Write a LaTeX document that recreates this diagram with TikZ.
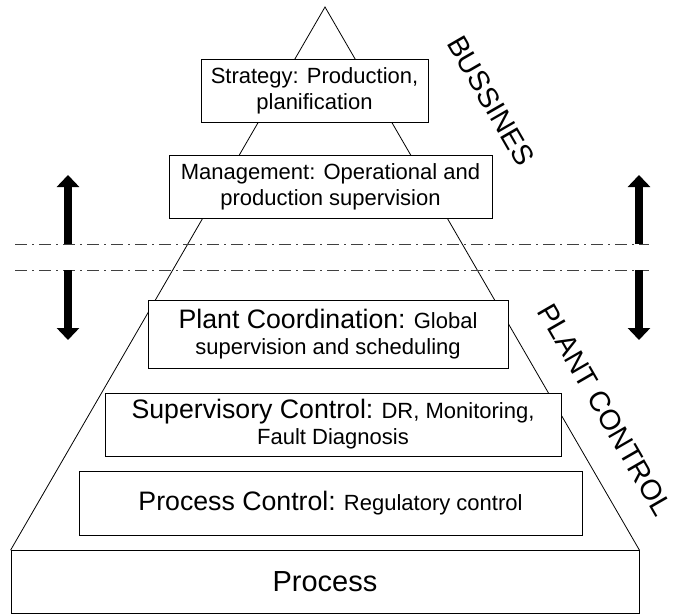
\documentclass[tikz,border=0pt]{standalone}
\usepackage{fontspec}
\setmainfont{Liberation Sans}
\usetikzlibrary{arrows.meta}
\newcommand{\headfont}{\fontsize{26.7}{31}\selectfont}
\newcommand{\bodyfont}{\fontsize{22}{26}\selectfont}
\begin{document}
\begin{tikzpicture}[x=1pt,y=-1pt,
  layer/.style={draw=black,line width=0.8pt,fill=white,inner sep=0pt,
    align=center,font=\bodyfont},
  sideline/.style={line width=0.8pt},
  cutline/.style={draw=black!75,line width=0.9pt,dash pattern=on 12pt off 5pt on 2pt off 5pt},
  bigarrow/.style={line width=8pt,-{Triangle[width=22pt,length=12pt]}},
  tag/.style={font=\fontsize{28.5}{33}\selectfont,rotate=-60}]
\useasboundingbox (0,0) rectangle (677,615);

% base box of the pyramid
\node[layer,minimum width=628pt,minimum height=63pt] (proc) at (325,582)
  {\fontsize{29}{33}\selectfont Process};
\coordinate (apex) at (325,7);

% pyramid outline behind the level boxes
\draw[sideline] (proc.north west) -- (apex) -- (proc.north east);

\node[layer,minimum width=227pt,minimum height=63pt] (strat) at (314.5,90.5)
  {Strategy: Production,\\planification};
\node[layer,minimum width=323pt,minimum height=63pt] (mgmt) at (330.5,186.5)
  {Management: Operational and\\production supervision};
\node[layer,minimum width=360pt,minimum height=68pt] (coord) at (328,334)
  {{\headfont Plant Coordination:} Global\\supervision and scheduling};
\node[layer,minimum width=456pt,minimum height=63pt] (sup) at (333,424.5)
  {{\headfont Supervisory Control:} DR, Monitoring,\\Fault Diagnosis};
\node[layer,minimum width=503pt,minimum height=64pt] (pc) at (330.5,503)
  {{\headfont Process Control:} Regulatory control};

% boundary between business and plant control
\coordinate (cutAw) at (15,244);
\coordinate (cutAe) at (649,244);
\coordinate (cutBw) at (15,270);
\coordinate (cutBe) at (649,270);
\draw[cutline] (cutAw) -- (cutAe);
\draw[cutline] (cutBw) -- (cutBe);

% direction arrows
\coordinate (luB) at (68,244);  \coordinate (luT) at (68,175);
\coordinate (ldB) at (68,270);  \coordinate (ldT) at (68,340);
\coordinate (ruB) at (639,244); \coordinate (ruT) at (639,175);
\coordinate (rdB) at (639,270); \coordinate (rdT) at (639,340);
\draw[bigarrow] (luB) -- (luT);
\draw[bigarrow] (ldB) -- (ldT);
\draw[bigarrow] (ruB) -- (ruT);
\draw[bigarrow] (rdB) -- (rdT);

% side labels
\node[tag] (bus) at (491,101) {BUSSINES};
\node[tag] (plant) at (605,410) {PLANT CONTROL};
\end{tikzpicture}
\end{document}
